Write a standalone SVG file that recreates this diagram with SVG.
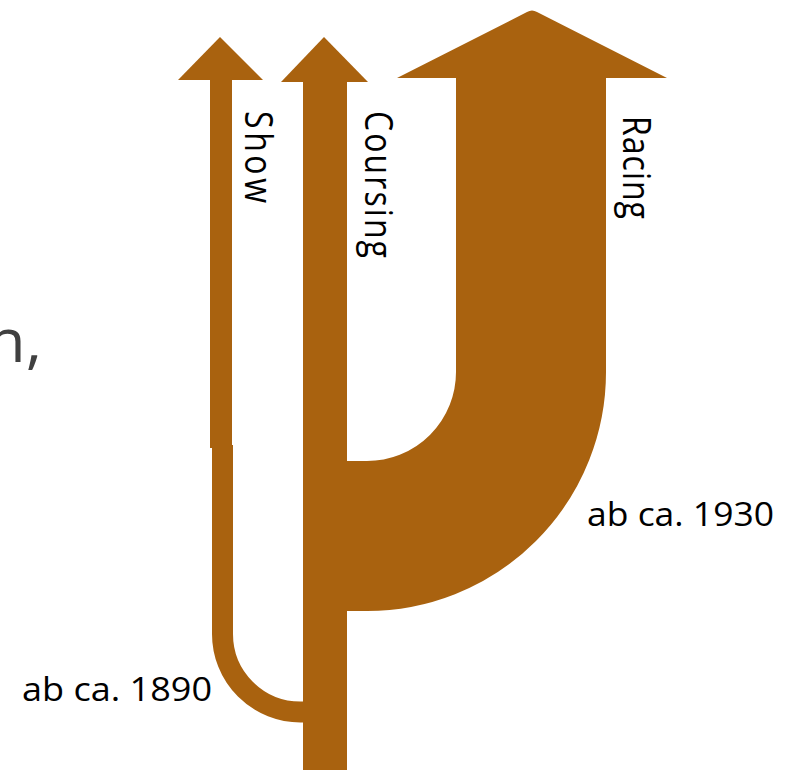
<svg xmlns="http://www.w3.org/2000/svg" width="798" height="770" viewBox="0 0 798 770">
<style>
.flow{fill:#A9620F}
.band{fill:none;stroke:#A9620F;stroke-linecap:butt}
.lbl{font-family:"Open Sans","Liberation Sans",sans-serif;font-size:32px;fill:#000}
.big{font-family:"Open Sans","Liberation Sans",sans-serif;font-size:60px;fill:#404040}
</style>
<rect width="798" height="770" fill="#fff"/>
<text class="big" transform="translate(-13,362) scale(1.05,1)">n,</text>
<g id="connectors">
  <path class="band" d="M531,76 V372 A164,164 0 0 1 367,536 H330" stroke-width="150"/>
  <path class="band" d="M222.5,445 V634 A78,78 0 0 0 300.5,712 H320" stroke-width="21"/>
  <rect class="flow" x="210" y="78" width="22" height="370"/>
  <rect class="flow" x="303" y="80" width="44" height="690"/>
</g>
<g id="show">
  <polygon class="flow" points="220,37 263,80 178,80"/>
  <text class="lbl" transform="translate(245,111) scale(1.22,1) rotate(90)" textLength="92">Show</text>
</g>
<g id="coursing">
  <polygon class="flow" points="324,37 368,82 281,82"/>
  <text class="lbl" transform="translate(365,111) scale(1.22,1) rotate(90)" textLength="147">Coursing</text>
</g>
<g id="racing">
  <path class="flow" d="M397,78 L527,12 Q532,9 537,12 L667,78 Z"/>
  <text class="lbl" transform="translate(623,116) scale(1.22,1) rotate(90)" textLength="103">Racing</text>
</g>
<g id="label1930">
  <text class="lbl" x="587" y="526" textLength="187" lengthAdjust="spacingAndGlyphs">ab ca. 1930</text>
</g>
<g id="label1890">
  <text class="lbl" x="22" y="701" textLength="190" lengthAdjust="spacingAndGlyphs">ab ca. 1890</text>
</g>
</svg>
